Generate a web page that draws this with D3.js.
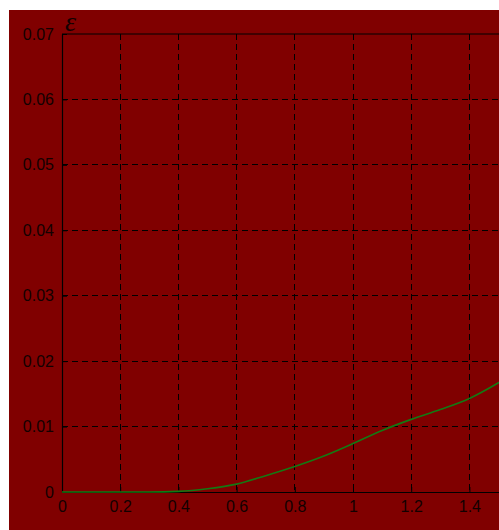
<!DOCTYPE html>
<html>
<head>
<meta charset="utf-8">
<script src="https://cdn.jsdelivr.net/npm/d3@7"></script>
<style>
  html, body { margin: 0; padding: 0; background: #fff; }
  svg { display: block; }
  .tick-label { font-family: "Liberation Sans", Arial, sans-serif; font-size: 16px; fill: #120000; }
</style>
</head>
<body>
<div id="chart"></div>
<script>
// --- data ---
const xValues = [0, 0.1, 0.2, 0.3, 0.4, 0.5, 0.6, 0.7, 0.8, 0.9, 1.0, 1.1, 1.2, 1.3, 1.4, 1.5, 1.6];
const epsValues = [0, 0, 0, 0, 0.0001, 0.0005, 0.0012, 0.0025, 0.0039, 0.0055, 0.0074, 0.0094, 0.0111, 0.0126, 0.0143, 0.0167, 0.0195];
const xTicks = [0, 0.2, 0.4, 0.6, 0.8, 1, 1.2, 1.4, 1.6];
const yTicks = [0, 0.01, 0.02, 0.03, 0.04, 0.05, 0.06, 0.07];

(function () {
    const W = 499, H = 530;
    const plot = { left: 62, top: 34, bottom: 492 };

    const svg = d3.select("#chart").append("svg")
        .attr("width", W)
        .attr("height", H);

    // maroon figure background, with a small white border top/left
    svg.append("rect")
        .attr("x", 9).attr("y", 10)
        .attr("width", W - 9).attr("height", H - 10)
        .attr("fill", "#800000");

    // x axis runs past the right edge of the window (1.6 is cut off)
    const x = d3.scaleLinear().domain([0, 1.6]).range([plot.left, plot.left + 1.6 * 291]);
    const y = d3.scaleLinear().domain([0, 0.07]).range([plot.bottom, plot.top]);

    const plotRight = x(1.6);

    // grid
    const grid = svg.append("g").attr("stroke", "#000").attr("stroke-width", 1)
        .attr("stroke-dasharray", "6,4").attr("shape-rendering", "crispEdges");
    grid.selectAll("line.vx")
        .data(xTicks.filter(d => d > 0))
        .join("line")
        .attr("x1", d => x(d)).attr("x2", d => x(d))
        .attr("y1", plot.top).attr("y2", plot.bottom);
    grid.selectAll("line.hy")
        .data(yTicks.filter(d => d > 0 && d < 0.07))
        .join("line")
        .attr("x1", plot.left).attr("x2", plotRight)
        .attr("y1", d => y(d)).attr("y2", d => y(d));

    // axes (ticks pointing inward)
    const xAxis = d3.axisBottom(x).tickValues(xTicks).tickSizeInner(-5).tickSizeOuter(0)
        .tickPadding(9).tickFormat(d => String(d));
    const yAxis = d3.axisLeft(y).tickValues(yTicks).tickSizeInner(-5).tickSizeOuter(0)
        .tickPadding(8).tickFormat(d => String(+d.toFixed(2)));

    const gx = svg.append("g").attr("transform", `translate(0,${plot.bottom})`).call(xAxis);
    const gy = svg.append("g").attr("transform", `translate(${plot.left},0)`).call(yAxis);

    [gx, gy].forEach(g => {
        g.select(".domain").attr("stroke", "#000").attr("stroke-width", 1.2);
        g.selectAll(".tick line").attr("stroke", "#000");
        g.selectAll(".tick text").attr("class", "tick-label").attr("fill", null);
        g.attr("font-family", null).attr("font-size", null);
    });

    // top frame line
    svg.append("line")
        .attr("x1", plot.left).attr("x2", plotRight)
        .attr("y1", plot.top).attr("y2", plot.top)
        .attr("stroke", "#000").attr("stroke-width", 1.2);

    // curve
    const line = d3.line()
        .x((d, i) => x(xValues[i]))
        .y(d => y(d))
        .curve(d3.curveMonotoneX);

    svg.append("path")
        .datum(epsValues)
        .attr("d", line)
        .attr("fill", "none")
        .attr("stroke", "#137a13")
        .attr("stroke-width", 1.6);

    // y label
    svg.append("text")
        .attr("x", 65).attr("y", 31)
        .attr("font-family", "'Liberation Serif', 'Times New Roman', serif")
        .attr("font-style", "italic")
        .attr("font-size", 28)
        .attr("fill", "#120000")
        .text("ε");
})();
</script>
</body>
</html>
